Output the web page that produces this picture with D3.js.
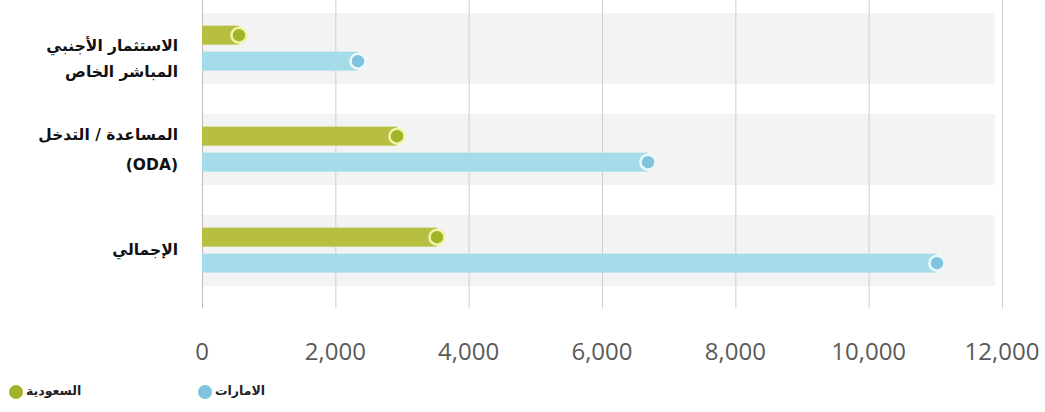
<!DOCTYPE html>
<html lang="ar">
<head>
<meta charset="utf-8">
<script src="https://cdn.jsdelivr.net/npm/d3@7"></script>
<style>
  html, body { margin: 0; padding: 0; background: #ffffff; }
  svg { display: block; }
</style>
</head>
<body>
<svg id="chart" width="1045" height="412"></svg>
<script>
// Flows by type (USD millions)
const categories = ["fdi", "oda", "total"];
const categoryLabels = [
  ["الاستثمار الأجنبي", "المباشر الخاص"],
  ["المساعدة / التدخل", "(ODA)"],
  ["الإجمالي"]
];
const seriesNames = ["السعودية", "الامارات"];
const saudiValues = [555, 2925, 3525];
const uaeValues = [2340, 6690, 11025];
const tickValues = [0, 2000, 4000, 6000, 8000, 10000, 12000];

const svg = d3.select("#chart");

const x = d3.scaleLinear().domain([0, 12000]).range([202, 1002]);
const y = d3.scaleBand().domain(categories).range([-2, 301])
  .paddingInner(0.3).paddingOuter(0.15);

const colors = {
  saudiBar: "#b6bf40", saudiDot: "#a2b52a", saudiRing: "#f2f5a8",
  uaeBar: "#a5dce9", uaeDot: "#7fc4dc", uaeRing: "#eaf9fd"
};

// background bands
svg.append("g").selectAll("rect").data(categories).join("rect")
  .attr("x", x(0)).attr("width", 995 - x(0))
  .attr("y", d => y(d)).attr("height", y.bandwidth())
  .attr("fill", "#f3f3f3");

// vertical gridlines
svg.append("g").selectAll("line").data(tickValues).join("line")
  .attr("x1", d => x(d) + 0.5).attr("x2", d => x(d) + 0.5)
  .attr("y1", 0).attr("y2", 308)
  .attr("stroke", d => d === 0 ? "#bdbdbd" : "#cfcfcf").attr("stroke-width", 1);

// tick labels
svg.append("g").selectAll("text").data(tickValues).join("text")
  .attr("x", d => x(d)).attr("y", 360)
  .attr("text-anchor", "middle")
  .attr("font-family", "'Open Sans', sans-serif")
  .attr("font-size", 24)
  .attr("fill", "#5a5a5a")
  .text(d => d3.format(",")(d));

const barH = 19;
const series = [
  { name: seriesNames[0], values: saudiValues, off: 22, bar: colors.saudiBar, dot: colors.saudiDot, ring: colors.saudiRing },
  { name: seriesNames[1], values: uaeValues, off: 48, bar: colors.uaeBar, dot: colors.uaeDot, ring: colors.uaeRing }
];

series.forEach(s => {
  const g = svg.append("g");
  g.selectAll("rect").data(categories).join("rect")
    .attr("x", x(0))
    .attr("y", (d) => y(d) + s.off - barH / 2)
    .attr("width", (d, i) => x(s.values[i]) - x(0))
    .attr("height", barH)
    .attr("fill", s.bar);
  g.selectAll("circle").data(categories).join("circle")
    .attr("cx", (d, i) => x(s.values[i]))
    .attr("cy", d => y(d) + s.off)
    .attr("r", 7.5)
    .attr("fill", s.dot)
    .attr("stroke", s.ring).attr("stroke-width", 2.5);
});

// category labels (right-aligned beside the axis)
const labelLineY = [[-3, 23], [-15, 15], [-1]];
const lg = svg.append("g")
  .attr("font-family", "'DejaVu Sans', sans-serif")
  .attr("font-weight", "bold")
  .attr("font-size", 15.5)
  .attr("fill", "#111");
categories.forEach((c, i) => {
  const cy = y(c) + y.bandwidth() / 2;
  categoryLabels[i].forEach((line, j) => {
    lg.append("text")
      .attr("x", 178).attr("y", cy + labelLineY[i][j])
      .attr("dy", "0.35em")
      .attr("text-anchor", "end")
      .text(line);
  });
});

// legend
const legendX = [16, 205];
const leg = svg.append("g");
series.forEach((s, i) => {
  leg.append("circle")
    .attr("cx", legendX[i]).attr("cy", 392).attr("r", 7)
    .attr("fill", s.dot);
  leg.append("text")
    .attr("x", legendX[i] + 10).attr("y", 391).attr("dy", "0.35em")
    .attr("text-anchor", "start")
    .attr("font-family", "'DejaVu Sans', sans-serif")
    .attr("font-weight", "bold")
    .attr("font-size", 12.5)
    .attr("fill", "#222")
    .text(s.name);
});
</script>
</body>
</html>
